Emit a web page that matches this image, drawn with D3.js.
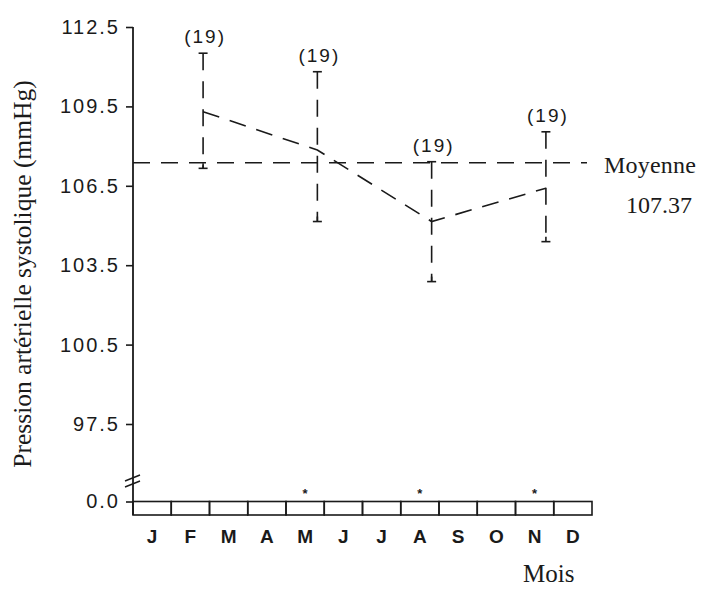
<!DOCTYPE html>
<html>
<head>
<meta charset="utf-8">
<script src="https://cdn.jsdelivr.net/npm/d3@7"></script>
<style>
  html, body { margin: 0; padding: 0; background: #fff; }
  svg { display: block; }
  .sans { font-family: "Liberation Sans", Arial, Helvetica, sans-serif; fill: #1a1a1a; }
  .serif { font-family: "Liberation Serif", "Times New Roman", serif; fill: #1a1a1a; }
</style>
</head>
<body>
<script>
// ---- data ----
const months = ["J","F","M","A","M2","J2","J3","A2","S","O","N","D"];
const monthLabels = ["J","F","M","A","M","J","J","A","S","O","N","D"];
const measuredMonths = ["F","M2","A2","N"];
const meanValues  = [109.30, 107.85, 105.15, 106.41];
const upperValues = [111.51, 110.81, 107.41, 108.54];
const lowerValues = [107.16, 105.15, 102.88, 104.39];
const countLabels = ["(19)", "(19)", "(19)", "(19)"];
const overallMean = 107.37;
const yTicks = [97.5, 100.5, 103.5, 106.5, 109.5, 112.5];
const starMonths = ["M2","A2","N"];

const W = 702, H = 592;
const svg = d3.select("body").append("svg").attr("width", W).attr("height", H);

const axisX = 133;
const ink = "#1a1a1a";

// scales
const y = d3.scaleLinear().domain([97.5, 112.5]).range([424, 27]);
const xUp = d3.scalePoint().domain(months).range([165, 584]);
const xBand = d3.scaleBand().domain(months).range([axisX, 592]).padding(0);
const yLow = d3.scaleLinear().domain([0, 1]).range([501.5, 480]);
const boxBottom = 515;

function styleAxis(g) {
  g.select(".domain").remove();
  g.selectAll(".tick line").attr("stroke", ink).attr("stroke-width", 1.6);
  g.selectAll(".tick text").attr("class", "sans").attr("font-size", 20)
    .attr("letter-spacing", 2).attr("fill", ink);
}

// main y axis ticks
const gAxis = svg.append("g").attr("transform", `translate(${axisX},0)`);
gAxis.call(d3.axisLeft(y).tickValues(yTicks).tickFormat(d3.format(".1f")).tickSize(7).tickPadding(6));
styleAxis(gAxis);

// lower axis tick (0.0)
const gLow = svg.append("g").attr("transform", `translate(${axisX},0)`);
gLow.call(d3.axisLeft(yLow).tickValues([0]).tickFormat(d3.format(".1f")).tickSize(7).tickPadding(6));
styleAxis(gLow);

// vertical axis line
svg.append("line")
  .attr("x1", axisX).attr("x2", axisX)
  .attr("y1", y(112.5)).attr("y2", boxBottom)
  .attr("stroke", ink).attr("stroke-width", 1.8);

// axis break marks
[0, 6].forEach(dy => {
  svg.append("line")
    .attr("x1", axisX - 8).attr("y1", 481 + dy)
    .attr("x2", axisX + 7).attr("y2", 475 + dy)
    .attr("stroke", ink).attr("stroke-width", 1.5);
});

// month boxes
svg.append("g").selectAll("rect").data(months).join("rect")
  .attr("x", d => xBand(d)).attr("y", yLow(0))
  .attr("width", xBand.bandwidth()).attr("height", boxBottom - yLow(0))
  .attr("fill", "none").attr("stroke", ink).attr("stroke-width", 1.6);

// month labels
svg.append("g").selectAll("text").data(months).join("text")
  .attr("class", "sans")
  .attr("x", d => xBand(d) + xBand.bandwidth() / 2)
  .attr("y", 543)
  .attr("text-anchor", "middle")
  .attr("font-size", 19)
  .attr("font-weight", "bold")
  .text((d, i) => monthLabels[i]);

// significance stars
svg.append("g").selectAll("text").data(starMonths).join("text")
  .attr("class", "sans")
  .attr("x", d => xBand(d) + xBand.bandwidth() / 2)
  .attr("y", 498)
  .attr("text-anchor", "middle")
  .attr("font-size", 13)
  .attr("font-weight", "bold")
  .text("*");

// overall mean line
svg.append("line")
  .attr("x1", axisX).attr("x2", 587)
  .attr("y1", y(overallMean)).attr("y2", y(overallMean))
  .attr("stroke", ink).attr("stroke-width", 1.6)
  .attr("stroke-dasharray", "17,11");

svg.append("text").attr("class", "serif")
  .attr("x", 604).attr("y", 173).attr("font-size", 24).attr("letter-spacing", 0.2)
  .text("Moyenne");
svg.append("text").attr("class", "serif")
  .attr("x", 626).attr("y", 213).attr("font-size", 24).attr("letter-spacing", 0)
  .text(overallMean.toFixed(2));

// error bars
const gErr = svg.append("g");
measuredMonths.forEach((m, i) => {
  const cx = xUp(m);
  const yt = y(upperValues[i]), yb = y(lowerValues[i]);
  gErr.append("line")
    .attr("x1", cx).attr("x2", cx).attr("y1", yt).attr("y2", yb)
    .attr("stroke", ink).attr("stroke-width", 1.6)
    .attr("stroke-dasharray", "17,11");
  gErr.append("line")
    .attr("x1", cx).attr("x2", cx).attr("y1", yb - 5).attr("y2", yb)
    .attr("stroke", ink).attr("stroke-width", 1.6);
  [yt, yb].forEach(yy => {
    gErr.append("line")
      .attr("x1", cx - 4.5).attr("x2", cx + 4.5).attr("y1", yy).attr("y2", yy)
      .attr("stroke", ink).attr("stroke-width", 1.6);
  });
  gErr.append("text").attr("class", "sans")
    .attr("x", cx + 2).attr("y", yt - 10)
    .attr("text-anchor", "middle").attr("font-size", 19).attr("letter-spacing", 2)
    .text(countLabels[i]);
});

// line connecting monthly means
const line = d3.line().x((d, i) => xUp(measuredMonths[i])).y(d => y(d));
svg.append("path")
  .attr("d", line(meanValues))
  .attr("fill", "none").attr("stroke", ink).attr("stroke-width", 1.6)
  .attr("stroke-dasharray", "17,11");

// axis titles
svg.append("text").attr("class", "serif")
  .attr("transform", `translate(31,274) rotate(-90)`)
  .attr("text-anchor", "middle")
  .attr("font-size", 25.5)
  .text("Pression artérielle systolique (mmHg)");

svg.append("text").attr("class", "serif")
  .attr("x", 523).attr("y", 582).attr("font-size", 25)
  .text("Mois");
</script>
</body>
</html>
